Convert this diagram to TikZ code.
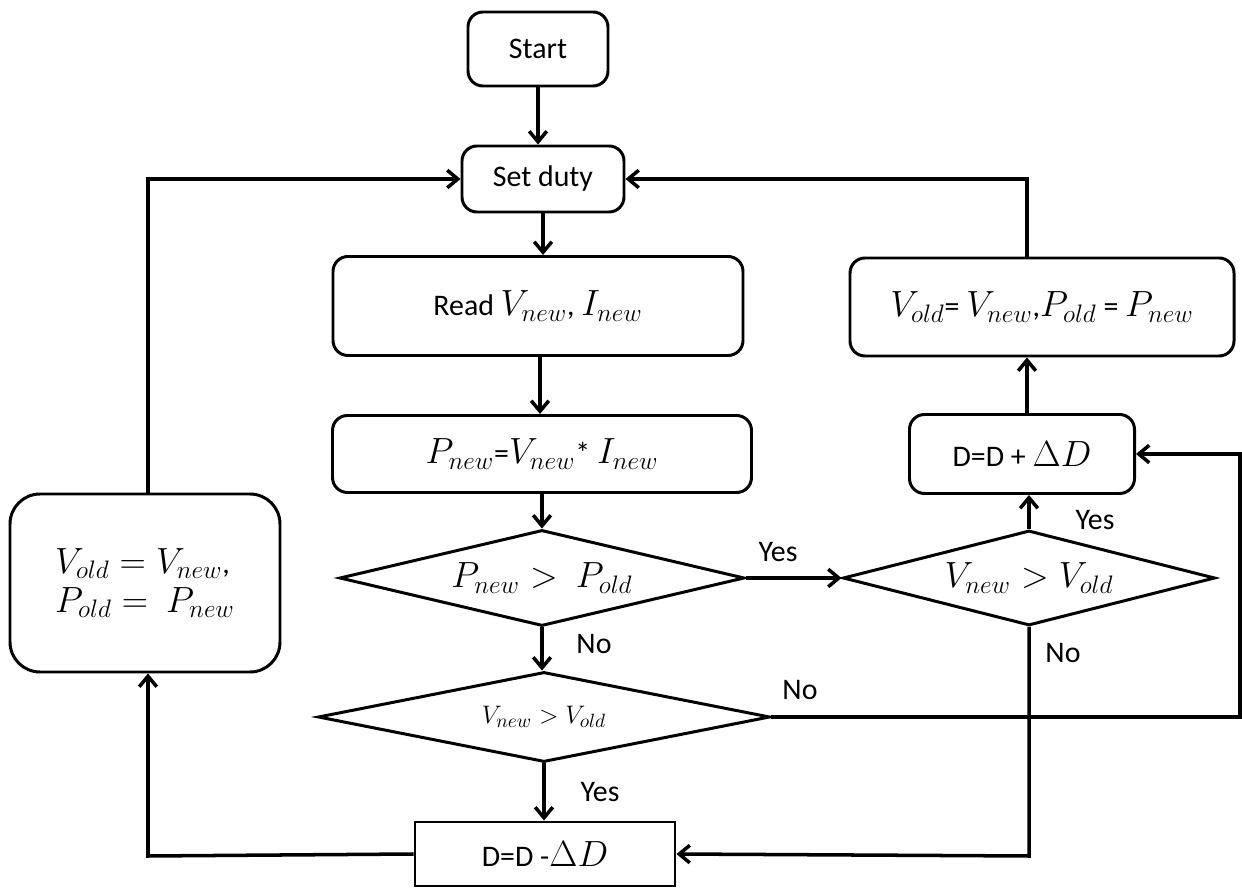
\documentclass[tikz,border=0pt]{standalone}
\usepackage{fontspec}
\setmainfont{Carlito}
\usetikzlibrary{shapes.geometric,arrows.meta}
\newcommand{\mth}[1]{{\fontsize{20}{24}\selectfont$#1$}}
\begin{document}
\begin{tikzpicture}[x=0.02cm,y=0.02cm,
  every node/.style={font=\fontsize{17}{20}\selectfont, inner sep=0pt},
  rbox/.style={draw, rounded corners=0.3cm, line width=1.7pt, align=center},
  sbox/.style={draw, line width=1.7pt, align=center},
  dia/.style={draw, diamond, line width=1.7pt, aspect=4},
  lab/.style={font=\fontsize{17}{20}\selectfont},
  conn/.style={draw, line width=2pt, -{Straight Barb[length=6pt,width=10pt,line width=2pt]}}]
\useasboundingbox (0,0) rectangle (1242,-888);

\node[rbox, minimum width=140*0.02cm, minimum height=74*0.02cm] (start) at (538,-49) {Start};
\node[rbox, minimum width=162*0.02cm, minimum height=66*0.02cm] (setduty) at (543,-179) {Set duty};
\node[rbox, minimum width=410*0.02cm, minimum height=99*0.02cm] (read) at (538,-306) {Read \mth{V_{new}}, \mth{I_{new}}};
\node[rbox, minimum width=419*0.02cm, minimum height=77*0.02cm] (pnew) at (542,-454) {\mth{P_{new}}=\mth{V_{new}}* \mth{I_{new}}};
\node[dia, minimum width=405*0.02cm, minimum height=96*0.02cm] (d1) at (542,-578) {\mth{P_{new} >\ P_{old}}};
\node[dia, minimum width=452*0.02cm, minimum height=90*0.02cm] (d2) at (544,-717) {{\fontsize{15}{18}\selectfont$V_{new} > V_{old}$}};
\node[sbox, minimum width=260*0.02cm, minimum height=64*0.02cm] (dminus) at (545,-854) {D=D -\mth{\Delta D}};
\node[rbox, rounded corners=0.6cm, minimum width=270*0.02cm, minimum height=178*0.02cm, align=left] (left) at (145,-583) {\mth{V_{old} = V_{new}},\\[2pt] \mth{P_{old} =\ P_{new}}};
\node[dia, minimum width=372*0.02cm, minimum height=95*0.02cm] (d3) at (1029,-578) {\mth{V_{new} > V_{old}}};
\node[rbox, minimum width=225*0.02cm, minimum height=79*0.02cm] (dplus) at (1022,-454) {D=D + \mth{\Delta D}};
\node[rbox, minimum width=384*0.02cm, minimum height=98*0.02cm] (topright) at (1042,-307) {\mth{V_{old}}= \mth{V_{new}},\mth{P_{old}} = \mth{P_{new}}};

\coordinate (rr1) at (1240,-717);
\coordinate (rr2) at (1240,-454);
\coordinate (bb1) at (1029,-856);
\coordinate (ll1) at (148,-856);
\coordinate (ll2) at (148,-179);
\coordinate (tt1) at (1027,-179);

\draw[conn] (start.south) -- (start.south |- setduty.north);
\draw[conn] (setduty.south) -- (setduty.south |- read.north);
\draw[conn] ([xshift=2*0.02cm]read.south) -- ([xshift=2*0.02cm]read.south |- pnew.north);
\draw[conn] (pnew.south) -- (pnew.south |- d1.north);
\draw[conn] (d1.south) -- (d1.south |- d2.north);
\draw[conn] (d2.south) -- (d2.south |- dminus.north);
\draw[conn] (d1.east) -- (d3.west);
\draw[conn] (d3.north) -- (d3.north |- dplus.south);
\draw[conn] ([xshift=5*0.02cm]dplus.north) -- ([xshift=5*0.02cm]dplus.north |- topright.south);
\draw[conn] (tt1 |- topright.north) -- (tt1) -- (setduty.east);
\draw[conn] (d2.east) -- (rr1) -- (rr2) -- (dplus.east);
\draw[conn] (d3.south) -- (bb1) -- (dminus.east);
\draw[conn] (dminus.west) -- (ll1) -- (left.south -| ll1);
\draw[conn] (left.north -| ll2) -- (ll2) -- (setduty.west);

\node[lab] (l1) at (778,-552) {Yes};
\node[lab] (l2) at (594,-644) {No};
\node[lab] (l3) at (600,-792) {Yes};
\node[lab] (l4) at (800,-690) {No};
\node[lab] (l5) at (1095,-520) {Yes};
\node[lab] (l6) at (1063,-653) {No};
\end{tikzpicture}
\end{document}
